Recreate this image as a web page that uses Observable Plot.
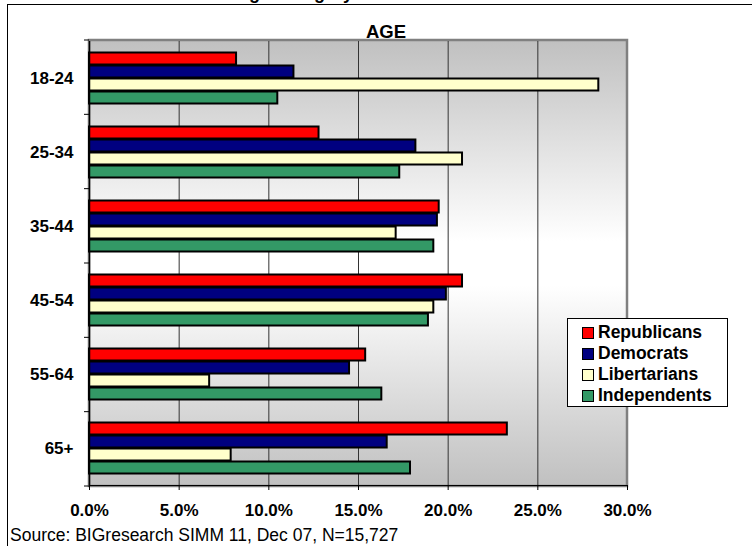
<!DOCTYPE html>
<html>
<head>
<meta charset="utf-8">
<script src="https://cdn.jsdelivr.net/npm/d3@7"></script>
<script src="https://cdn.jsdelivr.net/npm/@observablehq/plot@0.6"></script>
<style>
html, body { margin: 0; padding: 0; background: #fff; }
body { width: 752px; height: 546px; overflow: hidden; position: relative; font-family: "Liberation Sans", Arial, sans-serif; }
#frame { position: absolute; left: 7px; top: 4px; width: 800px; height: 600px; border-left: 1.5px solid #000; border-top: 1.5px solid #000; }
#chart { position: absolute; left: 0; top: 0; }
#legend { position: absolute; left: 567px; top: 318px; width: 161px; height: 89px; box-sizing: border-box; background: #fff; border: 1.5px solid #000; padding: 3px 0 0 14px; }
#legend .row { height: 21px; line-height: 21px; font-size: 17.5px; font-weight: bold; white-space: nowrap; display: flex; align-items: center; }
#legend .sw { width: 10px; height: 10px; border: 1.5px solid #000; margin-right: 4px; flex: none; }
</style>
</head>
<body>
<div id="frame"></div>
<div id="chart"></div>
<div id="legend"></div>
<script>
const ages = ["18-24", "25-34", "35-44", "45-54", "55-64", "65+"];
const parties = ["Republicans", "Democrats", "Libertarians", "Independents"];
const republicans = [8.2, 12.8, 19.5, 20.8, 15.4, 23.3];
const democrats = [11.4, 18.2, 19.4, 19.9, 14.5, 16.6];
const libertarians = [28.4, 20.8, 17.1, 19.2, 6.7, 7.9];
const independents = [10.5, 17.3, 19.2, 18.9, 16.3, 17.9];
const xTicks = [0, 5, 10, 15, 20, 25, 30];
const colors = ["#FF0000", "#000080", "#FFFFCC", "#339966"];
const titleText = "AGE";
const topTitleText = "Age Category";
const sourceText = "Source: BIGresearch SIMM 11, Dec 07, N=15,727";

const seriesValues = [republicans, democrats, libertarians, independents];
const rows = ages.flatMap((a, i) => parties.map((p, j) => ({ age: a, party: p, value: seriesValues[j][i] })));

const W = 752, H = 546, mL = 89, mR = 125, mT = 40, mB = 60;

const chart = Plot.plot({
  width: W, height: H,
  marginLeft: mL, marginRight: mR, marginTop: mT, marginBottom: mB,
  style: { background: "transparent", fontFamily: "'Liberation Sans', Arial, sans-serif", fontSize: "17px", fontWeight: "bold", color: "#000", overflow: "visible" },
  facet: { data: rows, y: "age" },
  fy: { domain: ages, padding: 0, axis: "left", label: null, tickSize: 0, tickPadding: 16 },
  y: { domain: parties, axis: null, paddingInner: 0, paddingOuter: 0.8 },
  x: { domain: [0, 30], ticks: xTicks, tickFormat: d => d.toFixed(1) + "%", tickSize: 5, tickPadding: 13, label: null, line: true },
  color: { domain: parties, range: colors },
  marks: [
    Plot.ruleX(xTicks.slice(1, -1), { stroke: "#333", strokeWidth: 1 }),
    Plot.barX(rows, { y: "party", x: "value", fill: "party", stroke: "#000", strokeWidth: 2, insetTop: 0.5, insetBottom: 0.5 }),
    Plot.ruleX([0], { stroke: "#000", strokeWidth: 1.5 })
  ]
});
document.getElementById("chart").appendChild(chart);

// background gradient + plot border, behind marks
const svg = d3.select(chart);
const xs = chart.scale("x");
const x0 = xs.apply(0), x1 = xs.apply(30);
const y0 = mT, y1 = H - mB;
const defs = svg.insert("defs", ":first-child");
const grad = defs.append("linearGradient").attr("id", "bgGrad").attr("x1", 0).attr("y1", 0).attr("x2", 0).attr("y2", 1);
[[0, "#c0c0c0"], [0.45, "#ffffff"], [0.55, "#ffffff"], [1, "#c0c0c0"]].forEach(([o, c]) =>
  grad.append("stop").attr("offset", o).attr("stop-color", c));
svg.insert("rect", "g").attr("x", x0).attr("y", y0).attr("width", x1 - x0).attr("height", y1 - y0)
  .attr("fill", "url(#bgGrad)").attr("stroke", "#808080").attr("stroke-width", 2.5);

// category boundary ticks on the left axis
const step = (y1 - y0) / ages.length;
for (let i = 0; i <= ages.length; i++) {
  svg.append("line").attr("x1", x0 - 5).attr("x2", x0).attr("y1", y0 + i * step).attr("y2", y0 + i * step)
    .attr("stroke", "#000").attr("stroke-width", 1);
}

// texts
svg.append("text").attr("x", 386).attr("y", 38).attr("text-anchor", "middle")
  .attr("font-size", 18.5).attr("font-weight", "bold").attr("fill", "#000").text(titleText);
svg.append("text").attr("x", 236).attr("y", -1).attr("text-anchor", "start")
  .attr("font-size", 18).attr("font-weight", "bold").attr("fill", "#000").text(topTitleText);
svg.append("text").attr("x", 10).attr("y", 541).attr("text-anchor", "start")
  .attr("font-size", 17.5).attr("font-weight", "normal").attr("fill", "#000").text(sourceText);

// legend
const legend = d3.select("#legend");
parties.forEach((p, i) => {
  const r = legend.append("div").attr("class", "row");
  r.append("div").attr("class", "sw").style("background", colors[i]);
  r.append("span").text(p);
});
</script>
</body>
</html>
